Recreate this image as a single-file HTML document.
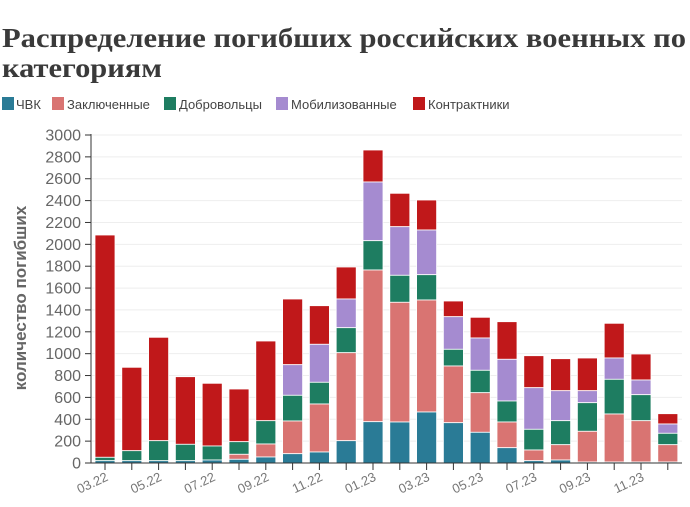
<!DOCTYPE html>
<html><head><meta charset="utf-8">
<style>
html,body{margin:0;padding:0;background:#fff;width:690px;height:507px;overflow:hidden}
svg{display:block}
</style></head><body>
<svg id="s" width="690" height="507" xmlns="http://www.w3.org/2000/svg" font-family="Liberation Sans, sans-serif">
<text x="2" y="47" font-family="Liberation Serif, serif" font-weight="bold" font-size="27" fill="#3a3a3a" textLength="684" lengthAdjust="spacingAndGlyphs">Распределение погибших российских военных по</text>
<text x="2" y="77" font-family="Liberation Serif, serif" font-weight="bold" font-size="27" fill="#3a3a3a" textLength="160" lengthAdjust="spacingAndGlyphs">категориям</text>
<g font-size="13" fill="#444">
<rect x="2" y="97" width="12" height="13" fill="#2a7b96"/><text x="16" y="109">ЧВК</text>
<rect x="52" y="97" width="12" height="13" fill="#d97472"/><text x="67" y="109">Заключенные</text>
<rect x="164" y="97" width="12" height="13" fill="#1e7d61"/><text x="179" y="109">Добровольцы</text>
<rect x="276" y="97" width="12" height="13" fill="#a58bd0"/><text x="291" y="109">Мобилизованные</text>
<rect x="413" y="97" width="12" height="13" fill="#c0181a"/><text x="428" y="109">Контрактники</text>
</g>
<g id="grid"></g>
<g id="bars"></g>
<line x1="91" y1="134" x2="91" y2="463" stroke="#333" stroke-width="1"/>
<line x1="91" y1="463" x2="682" y2="463" stroke="#333" stroke-width="1"/>
<text transform="translate(26,298) rotate(-90)" text-anchor="middle" font-size="17" font-weight="bold" fill="#666">количество погибших</text>
<g id="xl"></g>
</svg>
<script>
var ns="http://www.w3.org/2000/svg",s=document.getElementById('s');
function el(p,t,a,txt){var e=document.createElementNS(ns,t);for(var k in a)e.setAttribute(k,a[k]);if(txt!=null)e.textContent=txt;document.getElementById(p).appendChild(e);}
for(var v=0;v<=3000;v+=200){var y=463-v*328/3000;
 if(v>0)el('grid','line',{x1:92,x2:682,y1:y,y2:y,stroke:'#eee'});
 el('grid','line',{x1:85,x2:91,y1:y,y2:y,stroke:'#333'});
 el('grid','text',{x:81,y:y+5.5,'text-anchor':'end','font-size':16,fill:'#666'},v);}
var B=[[235,457.3,457.3,460.7,460.7],[367.3,450.7,450.7,460.7,460.7],[337.3,440.7,440.7,460.7,460.7],[376.7,444.3,444.3,460.7,460.7],[383.3,446,446,460,460],
[389,441.7,441.7,454.3,459.3],[341,420.7,420.7,444,457],[299,364.7,395.3,421,453.7],[305.7,344.3,382.3,404,452],[267,299,327.7,352.7,440.7],
[150,182,240.7,270,421.7],[193.3,226.7,275.3,302.3,422],[200,230,274.7,300,412],[301,316.7,349.3,366,422.7],[317.3,338,370.3,392.7,432.3],
[321.7,359.3,401,422,447.7],[355.7,387.7,429.3,450,460.7],[358.7,390.7,420.7,444.7,460],[358,390.7,402.7,431.3,462],[323.3,358,379.3,414,462],
[354,380,394.7,420.7,462],[413.7,424,433.3,444.7,462]];
var C=['#c0181a','#a58bd0','#1e7d61','#d97472','#2a7b96'];
var labs=['03.22','05.22','07.22','09.22','11.22','01.23','03.23','05.23','07.23','09.23','11.23'];
B.forEach(function(b,i){var x=95+i*26.8;var bb=b.concat([463]);
 for(var j=0;j<5;j++){var h=bb[j+1]-bb[j];if(h>0.3)el('bars','rect',{x:x,y:bb[j],width:20,height:h,fill:C[j],stroke:'#fff','stroke-width':0.8});}
 el('xl','line',{x1:x+10,x2:x+10,y1:463,y2:470,stroke:'#333'});
 if(i%2==0){el('xl','text',{transform:'translate('+(x+14)+',480) rotate(-25)','text-anchor':'end','font-size':13,fill:'#777'},labs[i/2]);}
});
</script>
</body></html>
